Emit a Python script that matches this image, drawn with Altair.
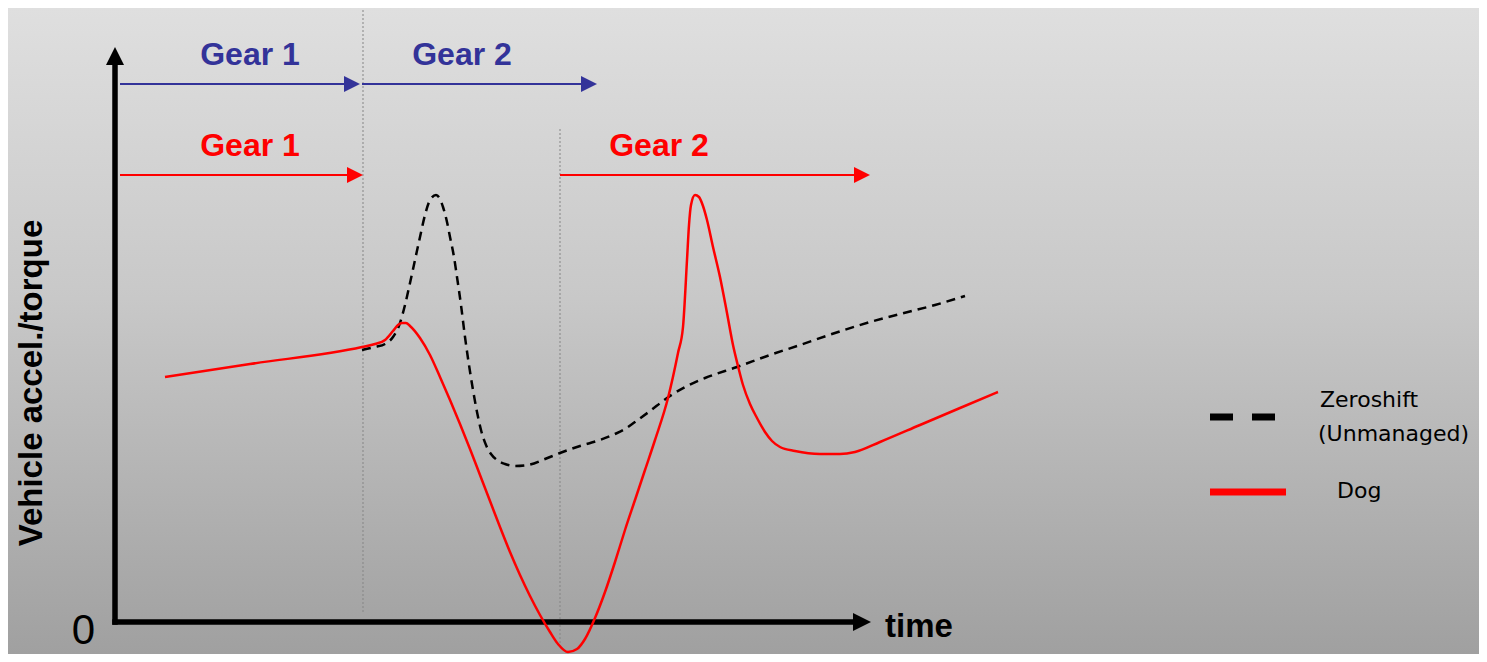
import altair as alt
import pandas as pd

# ---------------- canvas / coordinate frame (time, value units) -------------
W, H = 1471, 646
T_DOMAIN = [-107, 1364]
V_DOMAIN = [-32, 614]

# ---------------- curves ----------------
zs_t = [247, 260, 270, 278, 285, 290, 295, 300, 305, 310, 315, 321, 325, 328, 332,
        335, 339, 342, 346, 350, 354, 358, 362, 366, 371, 376, 382, 390, 400, 413,
        430, 445, 465, 485, 500, 510, 520, 535, 552, 570, 590, 622, 655, 685, 720,
        755, 785, 820, 850]
zs_v = [272, 275, 278, 285, 299, 317, 339, 362, 385, 407, 422, 427, 423, 415, 400,
        385, 365, 345, 317, 285, 257, 232, 210, 192, 177, 168, 162, 158, 156, 157,
        163, 169, 176, 182, 188, 193, 200, 211, 224, 235, 244, 255, 267, 277, 289,
        300, 308, 317, 326]

dog_t = [50, 135, 247, 260, 270, 278, 283, 287, 291, 295, 305, 315, 325, 335, 345,
         355, 365, 375, 385, 395, 405, 415, 425, 435, 443, 453, 462, 470, 480, 490,
         500, 510, 520, 530, 540, 553, 563, 568, 572, 574, 576, 580, 584, 588, 592,
         598, 605, 612, 618, 623, 628, 635, 642, 650, 657, 665, 680, 705, 725, 740,
         765, 805, 845, 883]
dog_v = [245, 258, 275, 278, 282, 291, 297, 299, 299, 296, 284, 267, 245, 222, 198,
         173, 147, 121, 95, 70, 47, 26, 7, -10, -22, -30, -27, -17, 4, 30,
         60, 92, 122, 152, 182, 224, 269, 295, 362, 397, 417, 427, 425, 416, 402,
         375, 345, 309, 277, 256, 237, 218, 204, 190, 181, 175, 171, 168, 168, 170,
         180, 197, 214, 230]

# ---------------- gear arrows ----------------
gear_row = ["Zeroshift", "Zeroshift", "Dog", "Dog"]
gear_label = ["Gear 1", "Gear 2", "Gear 1", "Gear 2"]
gear_start = [5, 247, 5, 445]
gear_tip = [245, 482, 248, 755]
gear_level = [538, 538, 447, 447]
gear_label_t = [135, 347, 135, 544]
gear_label_v = [557, 557, 466, 466]

# ---------------- shift instants (dotted lines) ----------------
shift_t = [248, 445]
shift_v0 = [10, -21]
shift_v1 = [614, 494]

# ---------------- axes arrows ----------------
yaxis_t = [0]
yaxis_v0 = [0]
yaxis_tip = [575]
xaxis_v = [0]
xaxis_t0 = [0]
xaxis_tip = [756]

# ---------------- axis texts ----------------
ylabel_text = ["Vehicle accel./torque"]
ylabel_t = [-73]
ylabel_v = [239]
time_text = ["time"]
time_t = [770]
time_v = [-15]
zero_text = ["0"]
zero_t = [-31.5]
zero_v = [-22]

# ---------------- legend ----------------
leg_name = ["Zeroshift", "Dog"]
leg_t0 = [1095, 1095]
leg_t1 = [1161, 1171]
leg_v = [205, 130]
leg_text = ["Zeroshift", "(Unmanaged)", "Dog"]
leg_text_t = [1205, 1203, 1222]
leg_text_v = [215, 181, 124]

BLUE = "#333399"
RED = "#ff0000"
FONT = "Liberation Sans"

xs = alt.Scale(domain=T_DOMAIN, nice=False, zero=False)
ys = alt.Scale(domain=V_DOMAIN, nice=False, zero=False)


def X(f):
    return alt.X(f, type="quantitative", scale=xs, axis=None)


def Y(f):
    return alt.Y(f, type="quantitative", scale=ys, axis=None)


# background gradient
bg = alt.Chart(pd.DataFrame({"k": [0]})).mark_rect(
    color=alt.LinearGradient(
        gradient="linear",
        stops=[alt.GradientStop(color="#dfdfdf", offset=0),
               alt.GradientStop(color="#c8c8c8", offset=0.45),
               alt.GradientStop(color="#a0a0a0", offset=1)],
        x1=0, x2=0, y1=0, y2=1),
).encode(x=alt.value(0), x2=alt.value(W), y=alt.value(0), y2=alt.value(H))

shift_df = pd.DataFrame({"t": shift_t, "v0": shift_v0, "v1": shift_v1})
shifts = alt.Chart(shift_df).mark_rule(
    color="#858585", strokeWidth=1, strokeDash=[2, 2]
).encode(x=X("t"), y=Y("v0"), y2="v1")

gear_df = pd.DataFrame({"row": gear_row, "label": gear_label, "t0": gear_start,
                        "tip": gear_tip, "v": gear_level,
                        "lt": gear_label_t, "lv": gear_label_v})
gear_df["t1"] = gear_df["tip"] - 6

RIGHT_HEAD = "M0,0L-2,-1L-2,1Z"
UP_HEAD = "M0,0L-1,2L1,2Z"

gear_layers = []
for row, col in [("Zeroshift", BLUE), ("Dog", RED)]:
    d = gear_df[gear_df["row"] == row]
    base = alt.Chart(d)
    gear_layers.append(base.mark_rule(color=col, strokeWidth=2).encode(
        x=X("t0"), x2="t1", y=Y("v")))
    gear_layers.append(base.mark_point(shape=RIGHT_HEAD, filled=True, size=256,
                                       color=col, opacity=1, strokeWidth=0).encode(
        x=X("tip"), y=Y("v")))
    gear_layers.append(base.mark_text(color=col, font=FONT, fontSize=32, fontWeight="bold",
                                      align="center", baseline="alphabetic").encode(
        x=X("lt"), y=Y("lv"), text="label:N"))

yax_df = pd.DataFrame({"t": yaxis_t, "v0": yaxis_v0, "tip": yaxis_tip})
yax_df["v1"] = yax_df["tip"] - 12
yax = alt.Chart(yax_df).mark_rule(color="black", strokeWidth=5.5, strokeCap="square").encode(
    x=X("t"), y=Y("v0"), y2="v1")
yax_head = alt.Chart(yax_df).mark_point(shape=UP_HEAD, filled=True, size=324, color="black",
                                        opacity=1, strokeWidth=0).encode(
    x=X("t"), y=Y("tip"))

xax_df = pd.DataFrame({"v": xaxis_v, "t0": xaxis_t0, "tip": xaxis_tip})
xax_df["t1"] = xax_df["tip"] - 12
xax = alt.Chart(xax_df).mark_rule(color="black", strokeWidth=5.5, strokeCap="square").encode(
    x=X("t0"), x2="t1", y=Y("v"))
xax_head = alt.Chart(xax_df).mark_point(shape=RIGHT_HEAD, filled=True, size=324, color="black",
                                        opacity=1, strokeWidth=0).encode(
    x=X("tip"), y=Y("v"))

zs_df = pd.DataFrame({"t": zs_t, "v": zs_v})
dog_df = pd.DataFrame({"t": dog_t, "v": dog_v})
zs_line = alt.Chart(zs_df).mark_line(color="black", strokeWidth=2.5, strokeDash=[9, 6],
                                     interpolate="monotone").encode(x=X("t"), y=Y("v"))
dog_line = alt.Chart(dog_df).mark_line(color=RED, strokeWidth=2.5,
                                       interpolate="monotone").encode(x=X("t"), y=Y("v"))

ylabel = alt.Chart(pd.DataFrame({"s": ylabel_text, "t": ylabel_t, "v": ylabel_v})).mark_text(
    font=FONT, fontSize=33, fontWeight="bold", angle=270, align="center",
    baseline="alphabetic", color="black").encode(x=X("t"), y=Y("v"), text="s:N")
time_lbl = alt.Chart(pd.DataFrame({"s": time_text, "t": time_t, "v": time_v})).mark_text(
    font=FONT, fontSize=33, fontWeight="bold", align="left",
    baseline="alphabetic", color="black").encode(x=X("t"), y=Y("v"), text="s:N")
zero_lbl = alt.Chart(pd.DataFrame({"s": zero_text, "t": zero_t, "v": zero_v})).mark_text(
    font=FONT, fontSize=42, align="center",
    baseline="alphabetic", color="black").encode(x=X("t"), y=Y("v"), text="s:N")

leg_df = pd.DataFrame({"name": leg_name, "t0": leg_t0, "t1": leg_t1, "v": leg_v})
leg_zs = alt.Chart(leg_df[leg_df["name"] == "Zeroshift"]).mark_rule(
    color="black", strokeWidth=7, strokeDash=[23, 19]).encode(x=X("t0"), x2="t1", y=Y("v"))
leg_dog = alt.Chart(leg_df[leg_df["name"] == "Dog"]).mark_rule(
    color=RED, strokeWidth=7).encode(x=X("t0"), x2="t1", y=Y("v"))
leg_txt = alt.Chart(pd.DataFrame({"s": leg_text, "t": leg_text_t, "v": leg_text_v})).mark_text(
    font="DejaVu Sans", fontSize=22, align="left", baseline="alphabetic",
    color="black").encode(x=X("t"), y=Y("v"), text="s:N")

chart = alt.layer(
    bg, shifts, *gear_layers, yax, yax_head, xax, xax_head, zs_line, dog_line,
    ylabel, time_lbl, zero_lbl, leg_zs, leg_dog, leg_txt
).properties(
    width=W, height=H, padding=0, autosize=alt.AutoSizeParams(type="none")
).configure_view(strokeWidth=0)

chart.save("out.html", embed_options={"renderer": "svg", "actions": False})
